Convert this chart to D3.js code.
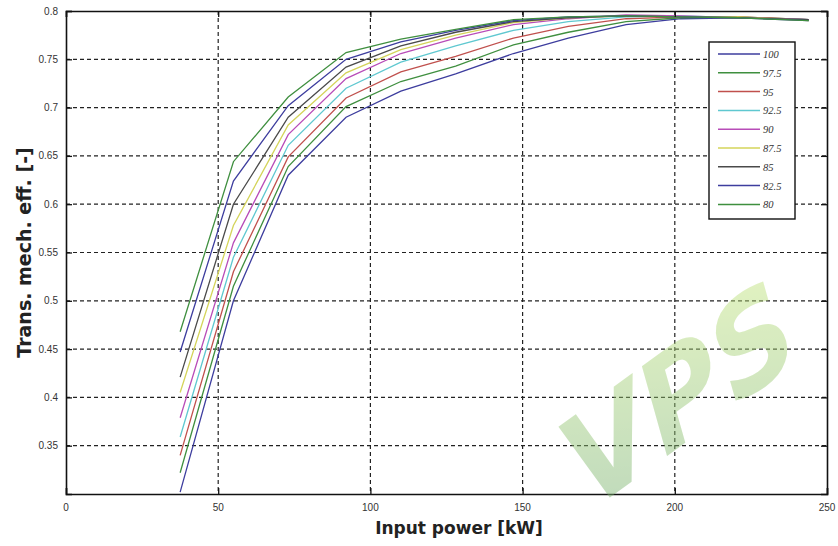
<!DOCTYPE html>
<html lang="en">
<head>
  <meta charset="UTF-8">
  <title>Trans. mech. eff. vs input power</title>
  <script src="https://d3js.org/d3.v7.min.js"></script>
  <style>
    body { margin: 0; background: #fff; }
    svg { font-family: "DejaVu Sans", sans-serif; }
    .tick-label { font-family: "Liberation Sans", sans-serif; font-size: 10px; fill: #333; }
    .axis-title { font-family: "DejaVu Sans", sans-serif; font-weight: bold; fill: #222; }
    .legend-label { font-family: "Liberation Serif", serif; font-size: 10.5px; font-style: italic; fill: #333; }
  </style>
</head>
<body>
  <svg width="838" height="546"></svg>

  <script>
    // input power [kW], shared sample points
    const powerKW = [37.5, 55, 73, 92, 110, 128, 147, 165, 184, 202, 221, 244];

    // efficiency curves, one per speed setting
    const eff100  = [0.302, 0.500, 0.630, 0.690, 0.717, 0.735, 0.756, 0.772, 0.786, 0.792, 0.793, 0.791];
    const eff975  = [0.322, 0.515, 0.639, 0.701, 0.727, 0.743, 0.765, 0.778, 0.789, 0.793, 0.794, 0.791];
    const eff95   = [0.340, 0.530, 0.649, 0.710, 0.737, 0.753, 0.772, 0.784, 0.792, 0.794, 0.794, 0.791];
    const eff925  = [0.359, 0.545, 0.661, 0.720, 0.747, 0.764, 0.780, 0.789, 0.794, 0.795, 0.793, 0.791];
    const eff90   = [0.379, 0.560, 0.672, 0.730, 0.756, 0.772, 0.786, 0.792, 0.796, 0.795, 0.793, 0.791];
    const eff875  = [0.405, 0.578, 0.682, 0.736, 0.760, 0.775, 0.788, 0.793, 0.795, 0.794, 0.794, 0.790];
    const eff85   = [0.421, 0.600, 0.690, 0.742, 0.764, 0.778, 0.789, 0.793, 0.795, 0.794, 0.793, 0.791];
    const eff825  = [0.447, 0.624, 0.702, 0.750, 0.768, 0.780, 0.790, 0.794, 0.795, 0.794, 0.793, 0.790];
    const eff80   = [0.468, 0.644, 0.711, 0.757, 0.771, 0.781, 0.791, 0.794, 0.795, 0.794, 0.793, 0.790];

    const seriesNames = ["100", "97.5", "95", "92.5", "90", "87.5", "85", "82.5", "80"];
    const seriesColors = ["#3d3d9e", "#3f8f3f", "#c0504d", "#5fc8d0", "#b84cb8", "#d4d45a", "#4a4a4a", "#3d3d9e", "#3f8f3f"];
    const seriesValues = [eff100, eff975, eff95, eff925, eff90, eff875, eff85, eff825, eff80];

    const xTicks = [0, 50, 100, 150, 200, 250];
    const yTicks = [0.35, 0.4, 0.45, 0.5, 0.55, 0.6, 0.65, 0.7, 0.75, 0.8];
    const yTickLabels = ["0.35", "0.4", "0.45", "0.5", "0.55", "0.6", "0.65", "0.7", "0.75", "0.8"];

    const svg = d3.select("svg");
    const margin = { top: 11, right: 11, bottom: 52, left: 66 };
    const width = +svg.attr("width");
    const height = +svg.attr("height");

    const x = d3.scaleLinear().domain([0, 250]).range([margin.left, width - margin.right]);
    const y = d3.scaleLinear().domain([0.3, 0.8]).range([height - margin.bottom, margin.top]);

    const wm = svg.append("defs").append("linearGradient")
      .attr("id", "wmgrad").attr("x1", "0").attr("y1", "1").attr("x2", "1").attr("y2", "0");
    wm.append("stop").attr("offset", "0%").attr("stop-color", "#6aa86a");
    wm.append("stop").attr("offset", "100%").attr("stop-color", "#c6e878");

    // grid
    const grid = svg.append("g").attr("stroke", "#222").attr("stroke-width", 1.2).attr("stroke-dasharray", "4,3");
    grid.selectAll(".gx").data(xTicks.slice(1, -1)).join("line")
      .attr("x1", d => x(d)).attr("x2", d => x(d))
      .attr("y1", y(0.8)).attr("y2", y(0.3));
    grid.selectAll(".gy").data(yTicks.slice(0, -1)).join("line")
      .attr("y1", d => y(d)).attr("y2", d => y(d))
      .attr("x1", x(0)).attr("x2", x(250));

    // curves
    const line = d3.line().x((d, i) => x(powerKW[i])).y(d => y(d));
    svg.append("g").selectAll("path").data(seriesValues).join("path")
      .attr("d", line)
      .attr("fill", "none")
      .attr("stroke", (d, i) => seriesColors[i])
      .attr("stroke-width", 1.3);

    // axes: box with inward ticks
    const xAxis = d3.axisBottom(x).tickValues(xTicks).tickSize(-6).tickFormat("");
    const xAxisTop = d3.axisTop(x).tickValues(xTicks).tickSize(-6).tickFormat("");
    const yAxis = d3.axisLeft(y).tickValues(yTicks).tickSize(-6).tickFormat("");
    const yAxisRight = d3.axisRight(y).tickValues(yTicks).tickSize(-6).tickFormat("");
    svg.append("g").attr("transform", `translate(0,${y(0.3)})`).call(xAxis);
    svg.append("g").attr("transform", `translate(0,${y(0.8)})`).call(xAxisTop);
    svg.append("g").attr("transform", `translate(${x(0)},0)`).call(yAxis);
    svg.append("g").attr("transform", `translate(${x(250)},0)`).call(yAxisRight);
    svg.selectAll(".domain").attr("stroke", "#111").attr("stroke-width", 1.6);
    svg.selectAll(".tick line").attr("stroke", "#111").attr("stroke-width", 1.3);

    // tick labels
    svg.append("g").selectAll("text").data(xTicks).join("text")
      .attr("class", "tick-label")
      .attr("x", d => x(d)).attr("y", y(0.3) + 17)
      .attr("text-anchor", "middle")
      .text(d => d);
    svg.append("g").selectAll("text").data(yTicks).join("text")
      .attr("class", "tick-label")
      .attr("x", x(0) - 8).attr("y", d => y(d) + 3.5)
      .attr("text-anchor", "end")
      .text((d, i) => yTickLabels[i]);

    // axis titles
    svg.append("text").attr("class", "axis-title")
      .attr("x", 459).attr("y", 534)
      .attr("font-size", 17)
      .attr("text-anchor", "middle")
      .text("Input power [kW]");
    svg.append("text").attr("class", "axis-title")
      .attr("font-size", 19)
      .attr("transform", `translate(31,${(y(0.3) + y(0.8)) / 2}) rotate(-90)`)
      .attr("text-anchor", "middle")
      .text("Trans. mech. eff. [-]");

    // legend
    const legend = svg.append("g").attr("transform", "translate(709,42)");
    legend.append("rect").attr("width", 86).attr("height", 177)
      .attr("fill", "#fff").attr("stroke", "#111").attr("stroke-width", 1.4);
    const item = legend.selectAll(".item").data(seriesNames).join("g")
      .attr("transform", (d, i) => `translate(0,${12 + i * 18.8})`);
    item.append("line").attr("x1", 9).attr("x2", 51)
      .attr("stroke", (d, i) => seriesColors[i]).attr("stroke-width", 1.5);
    item.append("text").attr("class", "legend-label")
      .attr("x", 54).attr("y", 4).text(d => d);

    // watermark
    svg.append("text")
      .attr("transform", "translate(590,512) rotate(-36) skewX(-10)")
      .attr("font-family", "DejaVu Sans").attr("font-weight", "bold").attr("font-style", "italic")
      .attr("font-size", 120).attr("fill", "url(#wmgrad)").attr("opacity", 0.45)
      .text("VPS");
  </script>
</body>
</html>
